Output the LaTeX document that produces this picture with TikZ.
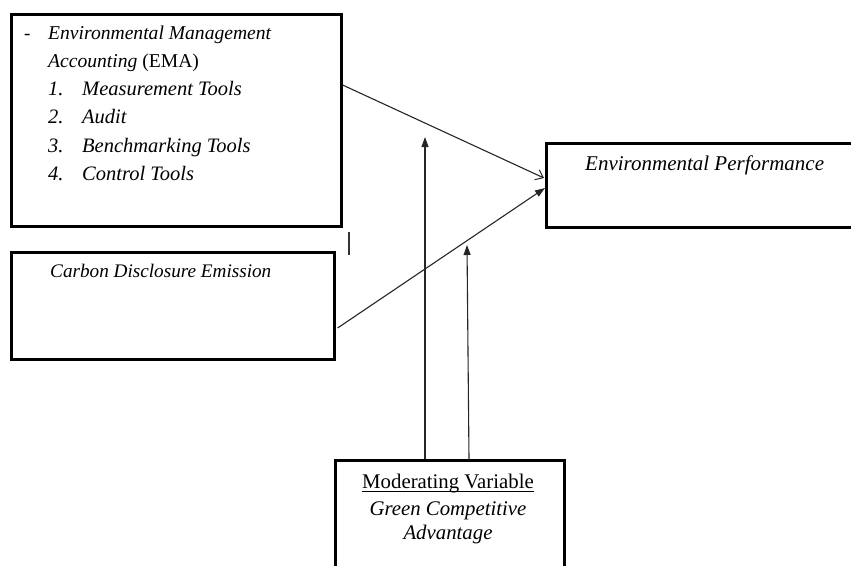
\documentclass[tikz,border=0pt]{standalone}
\usepackage{fontspec}
\setmainfont{Liberation Serif}
\usetikzlibrary{arrows.meta,calc}
\begin{document}
\begin{tikzpicture}[x=1pt,y=-1pt,
  box/.style={draw=black,line width=2.6pt,rectangle,inner sep=0pt,anchor=north west},
  lbl/.style={anchor=base west,inner sep=0pt,font=\fontsize{19}{23}\selectfont\itshape},
  item/.style={anchor=base west,inner sep=0pt,font=\fontsize{20.5}{24}\selectfont\itshape},
  ctr/.style={anchor=base,inner sep=0pt,font=\fontsize{20.8}{24}\selectfont},
  conn/.style={line width=1.1pt,draw=black!85},
  tip/.style={-{Triangle[length=10pt,width=7pt]}},
  barb/.style={-{Straight Barb[length=7pt,width=11pt,line width=1pt]}}]
\clip (0,0) rectangle (851,565);
\fill[white] (0,0) rectangle (851,565);
% boxes
\node[box,minimum width=330pt,minimum height=212pt] (ema) at (10,13) {};
\node[box,minimum width=323pt,minimum height=107pt] (cde) at (10,251) {};
\node[box,minimum width=315pt,minimum height=84pt] (ep) at (545,142) {};
\node[box,minimum width=229pt,minimum height=115pt] (mod) at (334,459) {};
% texts box 1
\node[anchor=base west,inner sep=0pt,font=\fontsize{19}{22}\selectfont] (dash) at (24,39) {-};
\node[lbl,font=\fontsize{19.6}{22}\selectfont\itshape] (t1) at (48,39) {Environmental Management};
\node[anchor=base west,inner sep=0pt,font=\fontsize{19.6}{22}\selectfont] (t2) at (48,67) {\textit{Accounting} (EMA)};
\node[item] (n1) at (48,95) {1.};
\node[item] (i1) at (82,95) {Measurement Tools};
\node[item] (n2) at (48,123) {2.};
\node[item] (i2) at (82,123) {Audit};
\node[item] (n3) at (48,152) {3.};
\node[item] (i3) at (82,152) {Benchmarking Tools};
\node[item] (n4) at (48,180) {4.};
\node[item] (i4) at (82,180) {Control Tools};
% other texts
\node[lbl,font=\fontsize{19.2}{23}\selectfont\itshape] (tc) at (50,277) {Carbon Disclosure Emission};
\node[item,font=\fontsize{21}{24}\selectfont\itshape] (te) at (585,170) {Environmental Performance};
\node[ctr] (tm) at (448,488) {Moderating Variable};
\draw[line width=0.9pt] ($(tm.base west)+(0,3)$) -- ($(tm.base east)+(0,3)$);
\node[ctr,font=\fontsize{20.8}{24}\selectfont\itshape] (tg) at (448,515) {Green Competitive};
\node[ctr,font=\fontsize{20.8}{24}\selectfont\itshape] (ta) at (448,539) {Advantage};
% connectors
\coordinate (e1) at ($(ema.north east)+(0,72)$);
\coordinate (p1) at ($(ep.north west)+(-1,36)$);
\draw[conn,barb] (e1) -- (p1);
\coordinate (c1) at ($(cde.north east)+(2,77)$);
\coordinate (p2) at ($(ep.north west)+(0,46)$);
\draw[conn,tip] (c1) -- (p2);
\coordinate (m1) at ($(mod.north west)+(91,0)$);
\coordinate (a1) at (425,137);
\draw[conn,tip] (m1) -- (a1);
\coordinate (m2) at ($(mod.north west)+(135,0)$);
\coordinate (a2) at (467,245);
\draw[conn,tip] (m2) -- (a2);
% small bar
\draw[line width=1.4pt,black!80] (349,232) -- (349,255);
\end{tikzpicture}
\end{document}
